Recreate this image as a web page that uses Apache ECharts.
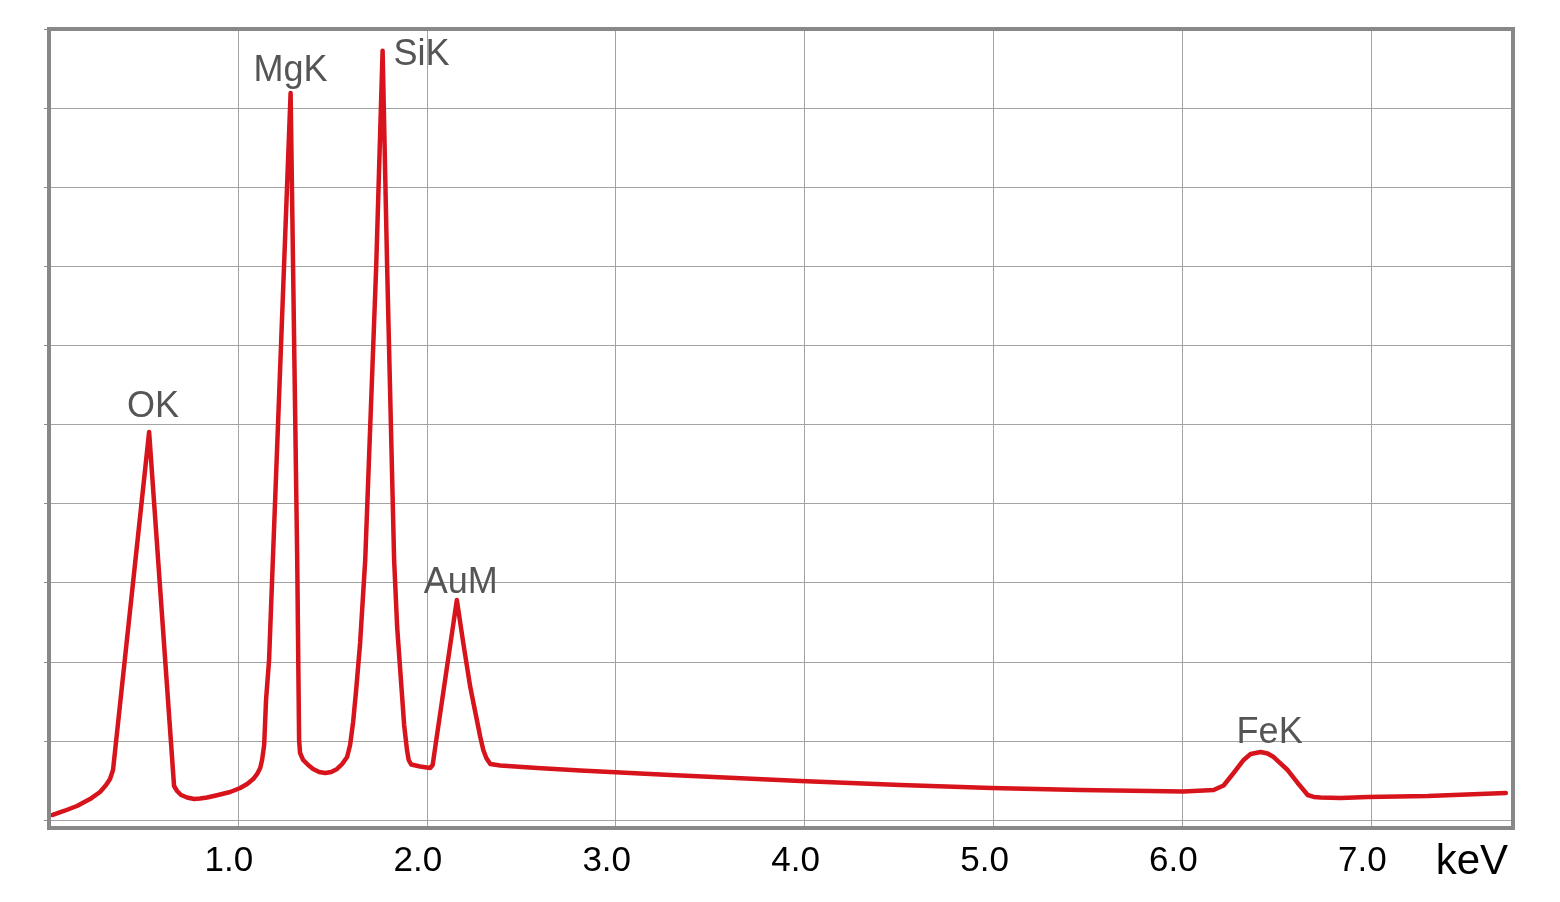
<!DOCTYPE html>
<html>
<head>
<meta charset="utf-8">
<script src="https://cdn.jsdelivr.net/npm/echarts@6/dist/echarts.min.js"></script>
<style>html,body{margin:0;padding:0;background:#fff;}#c{width:1560px;height:902px;}</style>
</head>
<body>
<div id="c"></div>
<script>
// Spectrum: energy (keV) and counts (arbitrary units, 100 per grid row)
const energy = [0.016,0.079,0.148,0.217,0.270,0.302,0.323,0.339,0.530,0.662,0.678,0.699,0.731,0.768,0.800,0.837,0.895,0.959,1.012,1.049,1.081,1.102,1.118,1.128,1.139,1.149,1.165,1.181,1.279,1.314,1.324,1.329,1.345,1.372,1.398,1.430,1.462,1.494,1.525,1.552,1.578,1.594,1.610,1.626,1.647,1.674,1.732,1.766,1.790,1.827,1.843,1.868,1.880,1.895,1.904,1.917,1.965,2.018,2.031,2.044,2.159,2.193,2.230,2.265,2.283,2.299,2.315,2.336,2.389,2.585,2.812,2.971,3.289,3.978,4.507,4.989,5.461,6.006,6.165,6.218,6.271,6.324,6.361,6.414,6.451,6.483,6.557,6.610,6.637,6.663,6.695,6.732,6.838,6.981,7.299,7.712];
const counts = [6.3,11.4,17.7,26.5,35.4,44.2,51.8,63.2,490.5,43.0,36.7,31.6,28.4,26.5,27.2,28.4,31.6,35.4,40.5,45.5,51.8,58.2,65.7,75.9,94.8,151.7,202.3,303.4,919.1,328.7,101.1,84.7,75.9,69.5,64.5,60.7,59.4,60.7,64.5,70.8,79.6,94.8,123.9,164.3,223.8,328.7,699.1,972.6,699.1,328.7,244.0,160.6,120.1,88.5,75.9,70.2,67.6,65.7,69.5,91.0,278.1,223.8,168.1,126.4,104.9,88.5,78.4,70.8,68.9,65.7,62.6,60.7,56.9,49.3,44.2,40.5,37.9,36.0,37.9,43.6,59.4,75.9,83.4,86.0,84.1,79.6,63.2,46.8,39.2,31.6,29.1,28.4,27.8,29.1,30.3,34.1];

// Peak identifications
const peakNames = ['OK','MgK','SiK','AuM','FeK'];
const peakEnergy = [0.530,1.279,1.766,2.159,6.414];
const peakCounts = [490.5,919.1,972.6,278.1,86.0];

// Axis
const xTickValues = [1,2,3,4,5,6,7];
const xAxisUnit = 'keV';

// label placement (style config, not data)
const labelOffsets = [[4,-25],[0,-22],[39,4],[4,-17],[9,-19]];

const FONT = "'Liberation Sans', Arial, Helvetica, sans-serif";
const GRID_COLOR = '#a3a3a3';

const chart = echarts.init(document.getElementById('c'), null, {renderer:'canvas'});
const spectrum = energy.map((e,i)=>[e,counts[i]]);
const peaks = peakNames.map((n,i)=>({
  value:[peakEnergy[i], peakCounts[i]],
  name:n,
  label:{offset:labelOffsets[i]}
}));

chart.setOption({
  animation:false,
  backgroundColor:'#fff',
  grid:[
    {left:49, right:47, top:29, bottom:74, show:true, borderColor:'#888', borderWidth:4, backgroundColor:'transparent', z:5},
    {left:49, right:47, top:29, bottom:82}
  ],
  xAxis:[
    {gridIndex:0, type:'value', min:0, max:7.75, interval:1,
     axisLine:{show:false}, axisTick:{show:false},
     splitLine:{show:true, lineStyle:{color:GRID_COLOR, width:1}},
     axisLabel:{
       color:'#000', fontSize:35, fontFamily:FONT, margin:16, padding:[0,18,0,0],
       formatter:function(v){
         const k = xTickValues.indexOf(Math.round(v));
         if (Math.abs(v-Math.round(v))>1e-6 || k<0) return '';
         return xTickValues[k].toFixed(1);
       }
     }},
    {gridIndex:1, type:'value', min:0, max:7.75, interval:1, show:false}
  ],
  yAxis:[
    {gridIndex:0, type:'value', min:0, max:1, show:false},
    {gridIndex:1, type:'value', min:0, max:1000, interval:100,
     axisLine:{show:false},
     axisTick:{show:true, length:5, lineStyle:{color:'#888', width:1}},
     axisLabel:{show:false},
     splitLine:{show:true, lineStyle:{color:GRID_COLOR, width:1}}}
  ],
  graphic:[
    {type:'text', right:52, top:841, style:{text:xAxisUnit, fontSize:42, fontFamily:FONT, fill:'#000'}}
  ],
  series:[
    {type:'line', xAxisIndex:1, yAxisIndex:1, data:spectrum, showSymbol:false, symbol:'none',
     smooth:false, lineStyle:{color:'#d7131b', width:4.5, join:'round', cap:'round'}, z:3},
    {type:'scatter', xAxisIndex:1, yAxisIndex:1, data:peaks, symbolSize:1,
     itemStyle:{color:'rgba(0,0,0,0)', opacity:1},
     label:{show:true, position:'inside', align:'center', verticalAlign:'middle', opacity:1,
       formatter:'{b}', color:'#555555', fontSize:36, fontFamily:FONT}, z:4}
  ]
});
</script>
</body>
</html>
